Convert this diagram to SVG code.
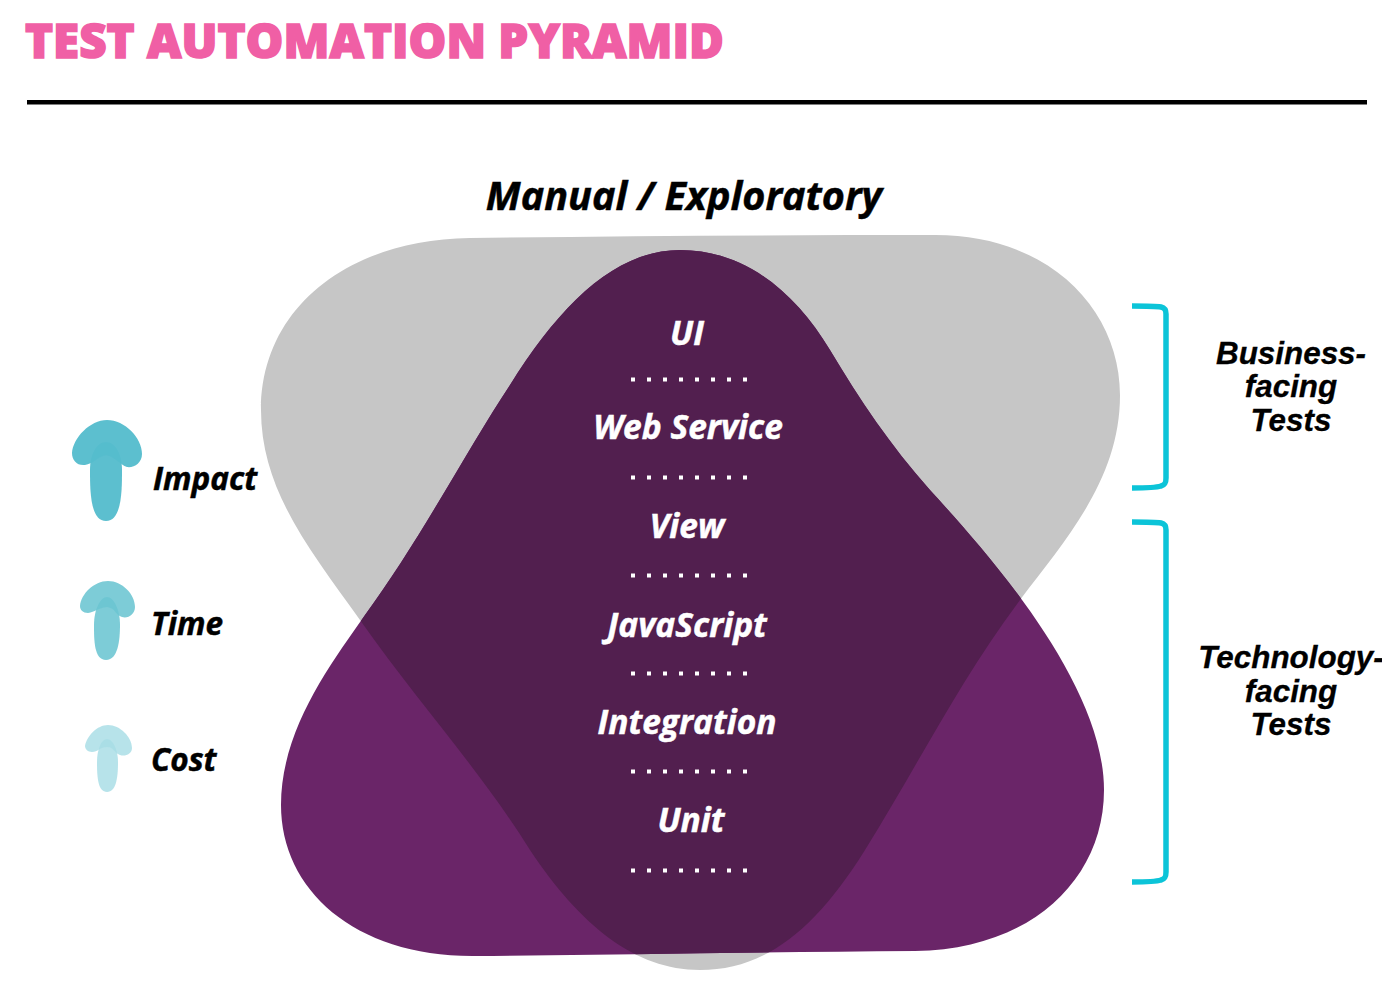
<svg xmlns="http://www.w3.org/2000/svg" width="1382" height="986" viewBox="0 0 1382 986">
<style>
text{font-family:"Open Sans","Noto Sans","Liberation Sans",sans-serif;font-style:italic;font-weight:700}
.w{fill:#fff;stroke:#fff;stroke-width:.5;font-size:33.5px;text-anchor:middle}
.k{fill:#000;stroke:#000;stroke-width:.5;font-size:31.5px}
.a{font-family:"Liberation Sans",Arial,sans-serif;font-size:31.4px;text-anchor:middle;fill:#000;stroke:#000;stroke-width:.3}
.d{stroke:#fff;stroke-width:4;stroke-dasharray:4 12;fill:none}
.b{fill:none;stroke:#0cc4d8;stroke-width:5.5}
</style>
<defs>
<path id="gs" d="M470,238 C620,236 780,235 935,235 C1050,235 1120,310 1120,395 C1120,480 1065,540 1020,600 C960,680 915,770 865,850 C815,930 765,970 700,970 C635,970 580,925 530,850 C480,770 420,705 360,620 C310,550 261,490 261,410 C261,310 345,240 470,238 Z"/>
<path id="ps" d="M680,250 C745,250 795,292 830,350 C860,400 890,445 930,490 C980,545 1104,680 1104,790 C1104,880 1030,950 915,951 C770,952 620,955 475,956 C355,957 281,890 281,805 C281,730 330,665 365,615 C420,540 470,445 510,385 C560,305 615,250 680,250 Z"/>
<clipPath id="gc"><use href="#gs"/></clipPath>
</defs>
<rect width="1382" height="986" fill="#fff"/>
<g id="title">
<text x="25" y="58" style="font-style:normal;font-weight:800;font-size:47px;fill:#f05fa5;stroke:#f05fa5;stroke-width:1.6" textLength="699" lengthAdjust="spacingAndGlyphs">TEST AUTOMATION PYRAMID</text>
<rect x="27" y="100" width="1340" height="4.5" fill="#000"/>
</g>
<g id="manual-exploratory">
<text x="684" y="210" style="font-size:39.6px;text-anchor:middle;stroke:#000;stroke-width:.5" fill="#000">Manual / Exploratory</text>
</g>
<g id="pyramid">
<use href="#gs" fill="#c6c6c6"/>
<use href="#ps" fill="#6a2568"/>
<use href="#ps" fill="#521f4f" clip-path="url(#gc)"/>
</g>
<g id="layers">
<g id="layer-ui"><text class="w" x="687" y="345">UI</text><path class="d" d="M631,379.500H747"/></g>
<g id="layer-web"><text class="w" x="688" y="439">Web Service</text><path class="d" d="M631,477.500H747"/></g>
<g id="layer-view"><text class="w" x="687" y="538">View</text><path class="d" d="M631,575.500H747"/></g>
<g id="layer-js"><text class="w" x="687" y="637">JavaScript</text><path class="d" d="M631,673.500H747"/></g>
<g id="layer-int"><text class="w" x="687" y="734">Integration</text><path class="d" d="M631,771.500H747"/></g>
<g id="layer-unit"><text class="w" x="691" y="832">Unit</text><path class="d" d="M631,870.500H747"/></g>
</g>
<g id="impact">
<path fill="#55bccd" fill-opacity=".96" d="M106,442 C116,442 122,455 122,470 C122,490 122,521 106,521 C90,521 90,490 90,470 C90,455 96,442 106,442 Z"/>
<path fill="#55bccd" fill-opacity=".96" d="M107,420 C125,420 142,438 142,454 C142,463 134,468 127,467 C120,465 116,457 106,455 C97,457 93,464 85,465 C77,466 72,460 72,453 C73,438 90,420 107,420 Z"/>
<text class="k" x="153" y="490">Impact</text>
</g>
<g id="time">
<path fill="#6bc5d2" fill-opacity=".88" d="M107,597 C114,597 120,610 120,625 C120,640 118,660 106,660 C94,660 94,640 94,625 C94,610 100,597 107,597 Z"/>
<path fill="#6bc5d2" fill-opacity=".88" d="M108,581 C122,581 135,594 135,607 C135,614 128,619 122,617 C115,615 116,608 107,607 C98,608 95,612 88,613 C83,613 80,610 80,606 C81,594 94,581 108,581 Z"/>
<text class="k" x="151" y="635">Time</text>
</g>
<g id="cost">
<path fill="#a7dde5" fill-opacity=".82" d="M107,739 C113,739 118,750 118,762 C118,778 116,792 107,792 C98,792 97,778 97,762 C97,750 101,739 107,739 Z"/>
<path fill="#a7dde5" fill-opacity=".82" d="M108,725 C120,725 132,737 132,748 C132,754 125,757 120,755 C114,753 114,747 107,747 C100,747 98,752 92,752 C88,752 85,749 85,746 C87,736 97,725 108,725 Z"/>
<text class="k" x="151" y="771">Cost</text>
</g>
<g id="connectors">
<path class="b" d="M1132,306 C1145,306 1155,306 1161,307 C1165,308 1166,310 1166,314 V478 C1166,483 1165,485 1161,486 C1155,488 1145,488 1132,488"/>
<path class="b" d="M1132,522 C1145,522 1155,522 1161,523 C1165,524 1166,526 1166,530 V872 C1166,877 1165,879 1161,880 C1155,882 1145,882 1132,882"/>
</g>
<g id="business-facing">
<text class="a" x="1291" y="364">Business-</text>
<text class="a" x="1291" y="397">facing</text>
<text class="a" x="1291" y="431">Tests</text>
</g>
<g id="technology-facing">
<text class="a" x="1291" y="668">Technology-</text>
<text class="a" x="1291" y="702">facing</text>
<text class="a" x="1291" y="735">Tests</text>
</g>
</svg>
